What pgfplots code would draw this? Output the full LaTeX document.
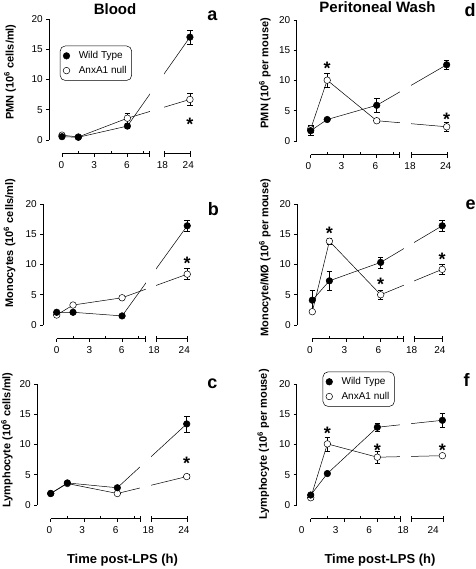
\documentclass[border=0pt]{standalone}
\usepackage{pgfplots}
\pgfplotsset{compat=1.18}
\usepackage{fontspec}
\setmainfont{Liberation Sans}

\newcommand{\tickfont}{\fontsize{10}{12}\selectfont}
\newcommand{\labfont}{\fontsize{11}{13}\selectfont\bfseries}
\newcommand{\legfont}{\fontsize{10}{12}\selectfont}
\newcommand{\starfont}{\fontsize{18}{20}\selectfont\bfseries}
\def\xay{-2.264}

\pgfdeclareplotmark{sig}{\pgftext[base,at={\pgfpoint{0pt}{-10.5pt}}]{\starfont *}}
\tikzset{axl/.style={line width=0.6pt, black}}

\pgfplotsset{
 panel/.style={scale only axis, height=121pt, ymin=0, ymax=20, clip=false,
  axis x line=none, axis y line*=left, xtick=\empty, ytick={0,5,10,15,20},
  tick align=outside, major tick length=3pt, tick style={line width=0.6pt, black},
  axis line style={line width=0.6pt},
  yticklabel style={font=\tickfont},
  /pgf/number format/assume math mode=true,
  ylabel style={font=\labfont, anchor=center},
  legend cell align=left,
  legend image code/.code={\draw[##1] plot coordinates {(0.12cm,0cm)};},
 },
 brk/.style 2 args={x coord trafo/.code={\pgfmathparse{(##1<15)*(##1)+(##1>15)*(#1+((##1)-18)*#2)}}},
 legbox/.style={legend style={at={#1}, anchor=north west, draw=black, line width=0.5pt,
   rounded corners=5pt, font=\legfont, inner xsep=3pt, inner ysep=3.5pt, row sep=2pt,
   /tikz/every odd column/.append style={column sep=7pt}}},
 ebar/.style={error bars/y dir=both, error bars/y explicit,
   error bars/error bar style={line width=0.5pt},
   error bars/error mark options={rotate=90, mark size=2.8pt, line width=0.5pt}},
 wt/.style={black, line width=0.5pt, mark=*, mark size=3.3pt,
   mark options={fill=black, line width=0.5pt}, ebar},
 nl/.style={black, line width=0.5pt, mark=*, mark size=3.3pt,
   mark options={fill=white, line width=0.5pt}, ebar},
 stars/.style={only marks, mark=sig, black, forget plot},
}

% broken x axis: #1 = end of 0-8 h segment, #2 = start (18 h), #3 = 24 h (axis units)
\newcommand{\brkaxis}[3]{%
 \fill[white] (axis cs:#1+0.03,-0.9) rectangle (axis cs:#2-0.03,20.5);
 \draw[axl] (axis cs:0,\xay) -- (axis cs:#1,\xay);
 \draw[axl] (axis cs:#2,\xay) -- (axis cs:#3+0.04,\xay);
 \pgfplotsinvokeforeach{0,3,6}{\draw[axl] (axis cs:##1,\xay) -- ++(0pt,-3pt);}
 \pgfplotsinvokeforeach{1.5,4.5,7.5}{\draw[axl] (axis cs:##1,\xay) -- ++(0pt,2.5pt);}
 \draw[axl] ([yshift=-3pt]axis cs:#1,\xay) -- ++(0pt,5.5pt);
 \draw[axl] ([yshift=-3pt]axis cs:#2,\xay) -- ++(0pt,5.5pt);
 \draw[axl] ([yshift=-3pt]axis cs:#3+0.04,\xay) -- ++(0pt,5.5pt);
}
% x tick labels at given axis positions
\newcommand{\xlabs}[5]{%
 \node[font=\tickfont, yshift=-11pt] at (axis cs:#1,\xay) {0};
 \node[font=\tickfont, yshift=-11pt] at (axis cs:#2,\xay) {3};
 \node[font=\tickfont, yshift=-11pt] at (axis cs:#3,\xay) {6};
 \node[font=\tickfont, yshift=-11pt] at (axis cs:#4,\xay) {18};
 \node[font=\tickfont, yshift=-11pt] at (axis cs:#5,\xay) {24};
}

\begin{document}
\begin{tikzpicture}[x=1pt,y=1pt]
\useasboundingbox (0,0) rectangle (475,569);

% ---------- a: Blood PMN ----------
\begin{axis}[panel, brk={9.36}{0.3967}, at={(49.3pt,429pt)}, anchor=south west,
  width=150pt, xmin=-1.165, xmax=12.6,
  ylabel={PMN (10\textsuperscript{6} cells/ml)},
  ylabel style={at={(axis description cs:-0.262,0.562)}},
  legbox={(axis description cs:0.071,0.779)}]
\addlegendimage{black, only marks, mark=*, mark size=3.3pt, mark options={fill=black}}
\addlegendentry{Wild Type}
\addlegendimage{black, only marks, mark=*, mark size=3.3pt, mark options={fill=white}}
\addlegendentry{AnxA1 null}
\addplot[forget plot, nl] coordinates {(0,0.8) +- (0,0.2) (1.5,0.5) +- (0,0.1) (6,3.6) +- (0,0.8) (24,6.7) +- (0,1.0)};
\addplot[forget plot, wt] coordinates {(0,0.55) +- (0,0.15) (1.5,0.45) +- (0,0.1) (6,2.3) +- (0,0.3) (24,17.0) +- (0,1.2)};
\brkaxis{8.0}{9.36}{11.74}
\xlabs{-0.05}{2.95}{5.95}{9.21}{11.59}
\addplot[stars] coordinates {(24,3.3)};
\end{axis}

% ---------- b: Blood Monocytes ----------
\begin{axis}[panel, brk={9.11}{0.4783}, at={(43.3pt,244pt)}, anchor=south west,
  width=150.7pt, xmin=-1.229, xmax=12.6,
  ylabel={Monocytes (10\textsuperscript{6} cells/ml)},
  ylabel style={at={(axis description cs:-0.224,0.675)}}]
\addplot[nl] coordinates {(0,1.65) +- (0,0.1) (1.5,3.3) +- (0,0.2) (6,4.5) +- (0,0.2) (24,8.4) +- (0,0.9)};
\addplot[wt] coordinates {(0,2.1) +- (0,0.1) (1.5,2.1) +- (0,0.1) (6,1.5) +- (0,0.2) (24,16.4) +- (0,0.9)};
\brkaxis{8.17}{9.11}{11.98}
\xlabs{0}{3}{5.95}{8.93}{11.71}
\addplot[stars] coordinates {(24,10.9)};
\end{axis}

% ---------- c: Blood Lymphocytes ----------
\begin{axis}[panel, brk={9.1}{0.525}, at={(37.3pt,64pt)}, anchor=south west,
  width=153.3pt, xmin=-1.207, xmax=12.6,
  ylabel={Lymphocyte (10\textsuperscript{6} cells/ml)},
  ylabel style={at={(axis description cs:-0.198,0.537)}}]
\addplot[nl] coordinates {(0,1.9) +- (0,0.1) (1.5,3.55) +- (0,0.1) (6,1.9) +- (0,0.2) (24,4.7) +- (0,0.3)};
\addplot[wt] coordinates {(0,1.9) +- (0,0.2) (1.5,3.65) +- (0,0.3) (6,2.85) +- (0,0.3) (24,13.4) +- (0,1.3)};
\brkaxis{8.05}{9.1}{12.25}
\xlabs{-0.12}{2.84}{5.84}{8.79}{12.0}
\addplot[stars] coordinates {(24,7.55)};
\end{axis}

% ---------- d: Peritoneal PMN ----------
\begin{axis}[panel, brk={9.18}{0.53}, at={(296.7pt,428pt)}, anchor=south west,
  width=152.6pt, xmin=-1.273, xmax=12.6,
  ylabel={PMN (10\textsuperscript{6} per mouse)},
  ylabel style={at={(axis description cs:-0.208,0.56)}}]
\addplot[nl] coordinates {(0,2.0) +- (0,0.6) (1.5,10.05) +- (0,1.1) (6,3.35) +- (0,0.2) (24,2.35) +- (0,0.7)};
\addplot[wt] coordinates {(0,1.7) +- (0,0.8) (1.5,3.55) +- (0,0.2) (6,5.9) +- (0,1.1) (24,12.6) +- (0,0.7)};
\brkaxis{8.05}{9.18}{12.36}
\xlabs{-0.22}{2.8}{5.88}{9.03}{12.27}
\addplot[stars] coordinates {(1.5,12.8) (24,4.3)};
\end{axis}

% ---------- e: Peritoneal Monocytes ----------
\begin{axis}[panel, brk={8.92}{0.4133}, at={(297.3pt,244pt)}, anchor=south west,
  width=158.6pt, xmin=-1.316, xmax=12.6,
  ylabel={Monocyte/M\O{} (10\textsuperscript{6} per mouse)},
  ylabel style={at={(axis description cs:-0.204,0.558)}}]
\addplot[nl] coordinates {(0,2.2) +- (0,0.2) (1.5,13.85) +- (0,0.5) (6,5.0) +- (0,0.8) (24,9.2) +- (0,0.8)};
\addplot[wt] coordinates {(0,4.1) +- (0,1.7) (1.5,7.3) +- (0,1.6) (6,10.35) +- (0,0.9) (24,16.4) +- (0,0.9)};
\brkaxis{7.98}{8.92}{11.4}
\xlabs{-0.2}{2.81}{5.8}{8.72}{11.2}
\addplot[stars] coordinates {(1.5,15.8) (6,7.45) (24,11.6)};
\end{axis}

% ---------- f: Peritoneal Lymphocytes ----------
\begin{axis}[panel, brk={9.04}{0.47}, at={(296.7pt,64pt)}, anchor=south west,
  width=153.9pt, xmin=-1.261, xmax=12.6,
  ylabel={Lymphocyte (10\textsuperscript{6} per mouse)},
  ylabel style={at={(axis description cs:-0.217,0.5)}},
  legbox={(axis description cs:0.169,1.102)}]
\addlegendimage{black, only marks, mark=*, mark size=3.3pt, mark options={fill=black}}
\addlegendentry{Wild Type}
\addlegendimage{black, only marks, mark=*, mark size=3.3pt, mark options={fill=white}}
\addlegendentry{AnxA1 null}
\addplot[forget plot, nl] coordinates {(0,1.2) +- (0,0.2) (1.5,10.1) +- (0,1.15) (6,7.9) +- (0,1.0) (24,8.15) +- (0,0.3)};
\addplot[forget plot, wt] coordinates {(0,1.65) +- (0,0.2) (1.5,5.2) +- (0,0.2) (6,12.85) +- (0,0.6) (24,14.0) +- (0,1.15)};
\brkaxis{8.05}{9.04}{11.86}
\xlabs{-0.81}{2.25}{5.26}{8.32}{11.03}
\addplot[stars] coordinates {(1.5,12.5) (6,9.8) (24,9.7)};
\end{axis}

% ---------- titles, panel letters, x labels ----------
\node[font=\fontsize{15}{17}\selectfont\bfseries] at (115,559.5) {Blood};
\node[font=\fontsize{15}{17}\selectfont\bfseries] at (377.5,562.3) {Peritoneal Wash};
\begin{scope}[every node/.style={font=\fontsize{18}{20}\selectfont\bfseries, anchor=base}]
\node at (212.3,548.3) {a};
\node at (213.3,353) {b};
\node at (212.3,180.7) {c};
\node at (470,552.3) {d};
\node at (470.7,359.7) {e};
\node at (466.7,182.3) {f};
\end{scope}
\node[font=\fontsize{13}{15}\selectfont\bfseries] at (122.5,9) {Time post-LPS (h)};
\node[font=\fontsize{13}{15}\selectfont\bfseries] at (380,9) {Time post-LPS (h)};
\end{tikzpicture}
\end{document}
